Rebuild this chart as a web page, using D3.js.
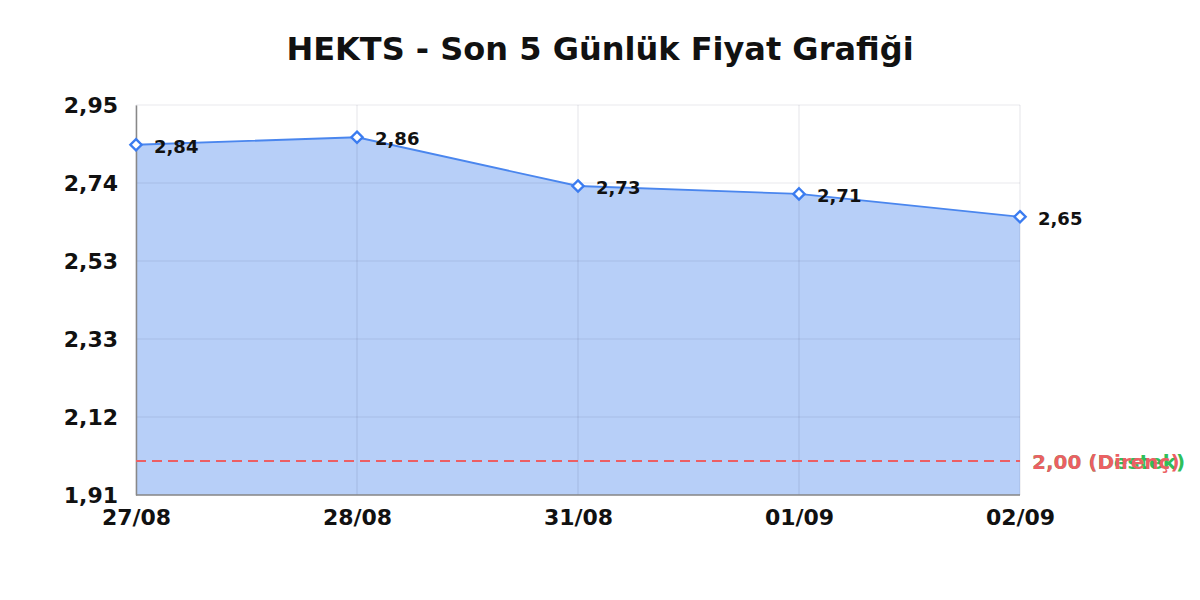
<!DOCTYPE html>
<html><head><meta charset="utf-8">
<script src="https://cdn.jsdelivr.net/npm/d3@7"></script>
<style>body{margin:0;background:#fff}svg{display:block}text{font-family:"DejaVu Sans",sans-serif;font-weight:bold}</style>
</head><body>
<svg id="c" width="1200" height="600"></svg>
<script>
const title = "HEKTS - Son 5 Günlük Fiyat Grafiği";
const dates = ["27/08","28/08","31/08","01/09","02/09"];
const prices = [2.844, 2.864, 2.734, 2.713, 2.652];
const yTicks = [1.91, 2.118, 2.326, 2.534, 2.742, 2.95];
const yDomain = [1.91, 2.95];
const supportLevel = 2.00, resistanceLevel = 2.00;
const supportLabel = "Destek", resistanceLabel = "Direnç";

const svg = d3.select("#c");
const L=136, R=1020, T=105, B=495;
const x = d3.scalePoint().domain(dates).range([L,R]);
const y = d3.scaleLinear().domain(yDomain).range([B,T]);
const fmt = v => d3.format(".2f")(v).replace(".", ",");
const data = dates.map((d,i)=>({d, v:prices[i]}));

svg.append("text").attr("x",600).attr("y",60).attr("text-anchor","middle")
  .style("font-size","32px").attr("fill","#111").text(title);

// area
svg.append("path").datum(data)
  .attr("d", d3.area().x(d=>x(d.d)).y0(B).y1(d=>y(d.v)))
  .attr("fill","#b7cff8");

// grid
const g = svg.append("g");
g.selectAll(".hg").data(yTicks).join("line")
  .attr("x1",L).attr("x2",R).attr("y1",d=>y(d)).attr("y2",d=>y(d))
  .attr("stroke","rgba(0,0,40,0.09)").attr("stroke-width",1.2);
g.selectAll(".vg").data(dates).join("line")
  .attr("x1",d=>x(d)).attr("x2",d=>x(d)).attr("y1",T).attr("y2",B)
  .attr("stroke","rgba(0,0,40,0.09)").attr("stroke-width",1.2);

// axes
const yAxis = d3.axisLeft(y).tickValues(yTicks).tickFormat(fmt).tickSize(0).tickPadding(18);
const ya = svg.append("g").attr("transform",`translate(${L},0)`).call(yAxis);
ya.select(".domain").attr("stroke","#888").attr("stroke-width",1.5);
ya.selectAll("text").style("font-size","22px").attr("fill","#111").attr("font-family","DejaVu Sans").attr("font-weight","bold");
const xAxis = d3.axisBottom(x).tickSize(0).tickPadding(14);
const xa = svg.append("g").attr("transform",`translate(0,${B})`).call(xAxis);
xa.select(".domain").attr("stroke","#888").attr("stroke-width",1.5).attr("d",`M${L},0H${R}`);
xa.selectAll("text").style("font-size","22px").attr("fill","#111").attr("font-family","DejaVu Sans").attr("font-weight","bold");

// support / resistance
const levels = [{v:supportLevel, name:supportLabel, c:"#2fbf5a"},{v:resistanceLevel, name:resistanceLabel, c:"#ec5f64"}];
levels.forEach(l=>{
  const yy = Math.round(y(l.v));
  svg.append("line").attr("x1",L).attr("x2",R).attr("y1",yy).attr("y2",yy)
    .attr("stroke",l.c).attr("stroke-width",2).attr("stroke-dasharray","10,6");
  svg.append("text").attr("x",R+12).attr("y",y(l.v)+8).style("font-size","20px")
    .attr("fill",l.c).text(`${fmt(l.v)} (${l.name})`);
});

// line
svg.append("path").datum(data)
  .attr("d", d3.line().x(d=>x(d.d)).y(d=>y(d.v)))
  .attr("fill","none").attr("stroke","#4a86ee").attr("stroke-width",1.8);

// markers
svg.selectAll(".m").data(data).join("path")
  .attr("transform",d=>`translate(${x(d.d)},${y(d.v)})`)
  .attr("d", d3.symbol(d3.symbolDiamond2, 80)())
  .attr("fill","#fff").attr("stroke","#3b7cf0").attr("stroke-width",2.4);

svg.selectAll(".lbl").data(data).join("text")
  .attr("x",d=>x(d.d)+18).attr("y",d=>y(d.v)+8)
  .style("font-size","18px").attr("fill","#111").text(d=>fmt(d.v));
</script>
</body></html>
